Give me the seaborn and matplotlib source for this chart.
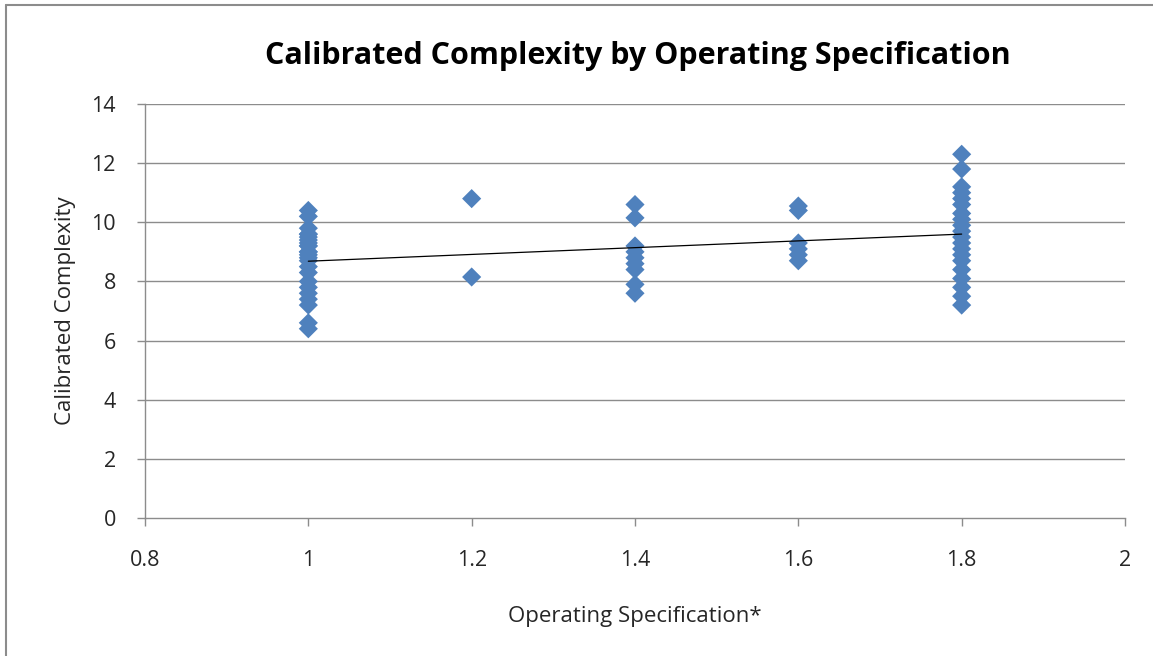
import numpy as np
import pandas as pd
import matplotlib
matplotlib.use("Agg")
import matplotlib.pyplot as plt
import seaborn as sns

# Calibrated complexity values grouped by operating specification
spec_levels = [1.0, 1.2, 1.4, 1.6, 1.8]
complexity_10 = [10.4, 10.2, 9.8, 9.6, 9.6, 9.5, 9.4, 9.3, 9.2, 9.2, 9.0, 9.0, 8.9,
                 8.8, 8.7, 8.5, 8.3, 8.0, 7.8, 7.6, 7.4, 7.2, 6.6, 6.4]
complexity_12 = [10.8, 8.15]
complexity_14 = [10.6, 10.15, 9.2, 9.0, 8.8, 8.6, 8.4, 7.9, 7.6]
complexity_16 = [10.55, 10.4, 9.3, 9.1, 8.9, 8.7]
complexity_18 = [12.3, 11.8, 11.2, 11.0, 10.8, 10.6, 10.3, 10.1, 9.9, 9.7, 9.5,
                 9.3, 9.1, 8.9, 8.7, 8.4, 8.1, 7.8, 7.5, 7.2]

groups = [complexity_10, complexity_12, complexity_14, complexity_16, complexity_18]
df = pd.DataFrame({
    "spec": np.concatenate([[s] * len(g) for s, g in zip(spec_levels, groups)]),
    "complexity": np.concatenate(groups),
})

title = "Calibrated Complexity by Operating Specification"
xlabel = "Operating Specification*"
ylabel = "Calibrated Complexity"
x_ticks = [0.8, 1.0, 1.2, 1.4, 1.6, 1.8, 2.0]
x_ticklabels = ["0.8", "1", "1.2", "1.4", "1.6", "1.8", "2"]
y_ticks = [0, 2, 4, 6, 8, 10, 12, 14]

sns.set_theme(style="white")
plt.rcParams["font.family"] = ["Open Sans", "DejaVu Sans"]

W, H = 1153, 656
fig = plt.figure(figsize=(W / 100, H / 100), dpi=100)
ax = fig.add_axes([145 / W, 1 - 518 / H, (1125 - 145) / W, (518 - 104) / H])

grid_c = "#8c8c8c"
text_c = "#262626"
for y in y_ticks[1:]:
    ax.axhline(y, color=grid_c, lw=1.0, zorder=0)

sns.regplot(data=df, x="spec", y="complexity", ax=ax, ci=None, truncate=True,
            marker="D",
            scatter_kws=dict(s=95, color="#4F81BD", edgecolors="none", alpha=1, zorder=3),
            line_kws=dict(color="black", lw=0.9, zorder=4))

ax.set_xlim(0.8, 2.0)
ax.set_ylim(0, 14)
ax.set_xticks(x_ticks)
ax.set_xticklabels(x_ticklabels)
ax.set_yticks(y_ticks)
ax.tick_params(axis="both", labelsize=15.5, colors=text_c, length=6, width=1,
               direction="out", bottom=True, left=True)
ax.tick_params(axis="x", color=grid_c, pad=17)
ax.tick_params(axis="y", color=grid_c, pad=15)
for side in ["top", "right"]:
    ax.spines[side].set_visible(False)
for side in ["left", "bottom"]:
    ax.spines[side].set_color(grid_c)
    ax.spines[side].set_linewidth(1.0)

ax.set_xlabel(xlabel, fontsize=16, color=text_c, labelpad=25)
ax.set_ylabel(ylabel, fontsize=16, color=text_c, labelpad=11)
fig.text(638 / W, 1 - 56 / H, title, ha="center", va="center",
         fontsize=22, fontweight="bold", color="black")

# outer chart frame
fig.add_artist(plt.Line2D([6 / W, 6 / W], [0, 1 - 5 / H], transform=fig.transFigure,
                          color="#8c8c8c", lw=1.5))
fig.add_artist(plt.Line2D([6 / W, 1], [1 - 5 / H, 1 - 5 / H], transform=fig.transFigure,
                          color="#8c8c8c", lw=1.5))

fig.savefig("out.png", dpi=100)
